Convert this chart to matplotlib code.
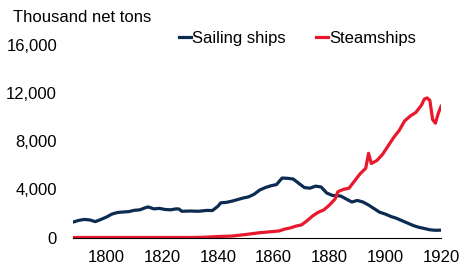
import matplotlib
matplotlib.use('Agg')
import matplotlib.pyplot as plt

plt.rcParams['font.family'] = ['Liberation Sans', 'DejaVu Sans']

# sailing ships, thousand net tons
sail_years = [1788, 1790, 1792, 1794, 1796, 1798, 1800, 1802, 1804, 1806, 1808,
              1810, 1812, 1814, 1815, 1817, 1819, 1821, 1823, 1825, 1826, 1827,
              1830, 1833, 1836, 1838, 1840, 1841, 1843, 1845, 1847, 1849, 1851,
              1853, 1855, 1857, 1859, 1861, 1863, 1865, 1867, 1869, 1871, 1873,
              1875, 1877, 1879, 1881, 1884, 1886, 1888, 1890, 1892, 1894, 1896,
              1898, 1900, 1902, 1904, 1906, 1908, 1910, 1912, 1914, 1916, 1918, 1920]
sail_tons = [1280, 1420, 1500, 1460, 1320, 1500, 1700, 1950, 2080, 2120, 2150,
             2260, 2300, 2480, 2540, 2380, 2420, 2330, 2300, 2380, 2370, 2180,
             2200, 2180, 2250, 2240, 2600, 2880, 2920, 3020, 3150, 3280, 3380,
             3600, 3950, 4150, 4300, 4400, 4940, 4920, 4860, 4500, 4150, 4100,
             4270, 4200, 3700, 3500, 3450, 3200, 2950, 3080, 2950, 2700, 2400,
             2100, 1950, 1750, 1600, 1400, 1200, 1000, 850, 750, 640, 600, 610]

# steamships, thousand net tons
steam_years = [1788, 1830, 1835, 1840, 1845, 1850, 1855, 1860, 1862, 1864, 1866,
               1868, 1870, 1872, 1874, 1876, 1878, 1880, 1882, 1883, 1885, 1887,
               1889, 1891, 1893, 1894, 1895, 1897, 1899, 1901, 1903, 1905, 1907,
               1909, 1911, 1913, 1914, 1915, 1916, 1917, 1918, 1919, 1920]
steam_tons = [0, 0, 20, 80, 120, 250, 400, 500, 550, 700, 800,
              950, 1050, 1400, 1800, 2100, 2300, 2700, 3200, 3800, 4000, 4100,
              4700, 5300, 5750, 7000, 6150, 6400, 6900, 7600, 8300, 8900, 9700,
              10100, 10400, 11000, 11500, 11600, 11400, 9800, 9500, 10300, 10900]

yticks = [0, 4000, 8000, 12000, 16000]
xticks = [1800, 1820, 1840, 1860, 1880, 1900, 1920]

navy = '#0b2b50'
red = '#e8192c'

fig = plt.figure(figsize=(4.59, 2.69), dpi=100)
ax = fig.add_axes([73 / 459, 31.5 / 269, 368 / 459, 192.5 / 269])

ax.plot(sail_years, sail_tons, color=navy, lw=2.3, label='Sailing ships')
ax.plot(steam_years, steam_tons, color=red, lw=2.3, label='Steamships')

ax.set_xlim(1788, 1920)
ax.set_ylim(0, 16000)
ax.set_xticks(xticks)
ax.set_yticks(yticks)
ax.set_yticklabels(['{:,}'.format(v) for v in yticks])
ax.tick_params(axis='both', length=0, labelsize=12)
ax.tick_params(axis='y', pad=11.5)
ax.tick_params(axis='x', pad=9)

for s in ['top', 'right', 'left']:
    ax.spines[s].set_visible(False)
ax.spines['bottom'].set_linewidth(0.8)
ax.spines['bottom'].set_color('black')

fig.text(13 / 459, 1 - 17 / 269, 'Thousand net tons', fontsize=12, va='center', ha='left')

fig.legend(loc='center left', bbox_to_anchor=(179 / 459, 1 - 38 / 269), ncol=2,
           frameon=False, fontsize=12, handlelength=0.7, handletextpad=0.1,
           columnspacing=1.8, borderaxespad=0, borderpad=0)

fig.savefig('out.png', dpi=100)
